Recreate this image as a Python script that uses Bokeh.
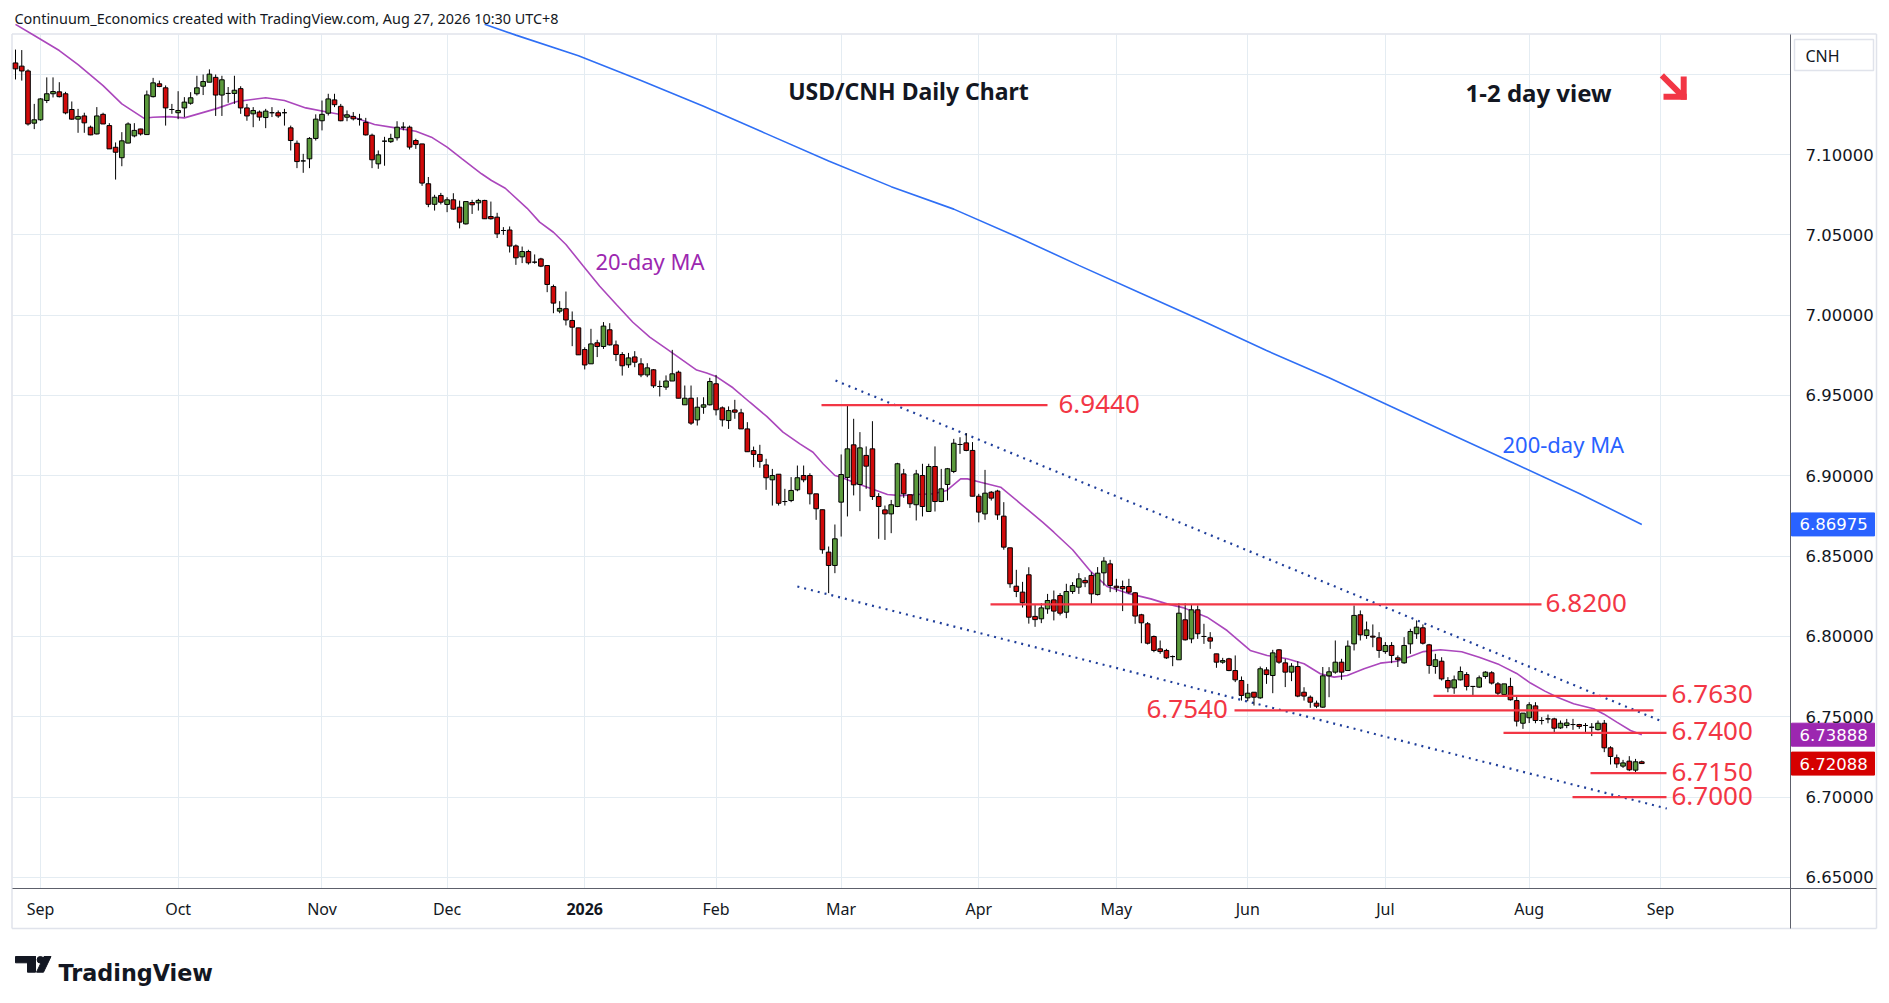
import numpy as np
import pandas as pd
from bokeh.plotting import figure
from bokeh.models import Range1d, FixedTicker, PrintfTickFormatter, Label, ColumnDataSource
from bokeh.embed import file_html
from bokeh.resources import INLINE
from bokeh.core.properties import value

# ---------------- data ----------------
first_day = "2025-08-26"
holidays = ["2025-12-25", "2026-01-01"]

opens = [7.157, 7.155, 7.152, 7.1195, 7.1216, 7.1336, 7.1378, 7.139, 7.1378, 7.128,
 7.122, 7.124, 7.117, 7.1128, 7.125, 7.118, 7.1045, 7.098, 7.1071, 7.1116,
 7.1159, 7.1124, 7.136, 7.144, 7.1415, 7.128, 7.126, 7.129, 7.1319, 7.1378,
 7.1425, 7.145, 7.148, 7.137, 7.138, 7.138, 7.141, 7.129, 7.1253, 7.1264,
 7.123, 7.126, 7.126, 7.126, 7.1166, 7.107, 7.096, 7.0973, 7.110, 7.121,
 7.1257, 7.134, 7.130, 7.1232, 7.1237, 7.122, 7.12, 7.112, 7.0942, 7.1083,
 7.108, 7.1104, 7.117, 7.117, 7.1087, 7.1066, 7.0818, 7.069, 7.0745, 7.0689,
 7.0718, 7.0672, 7.0568, 7.0701, 7.0699, 7.0714, 7.0614, 7.061, 7.0527, 7.053,
 7.0431, 7.0363, 7.0396, 7.033, 7.035, 7.0309, 7.0178, 7.0025, 7.004, 6.9967,
 6.9921, 6.9786, 6.9697, 6.9828, 6.9805, 6.9909, 6.9815, 6.9755, 6.9691, 6.974,
 6.9697, 6.9628, 6.966, 6.9556, 6.9552, 6.959, 6.9645, 6.9442, 6.9483, 6.9348,
 6.9427, 6.9442, 6.9573, 6.9423, 6.9344, 6.941, 6.9392, 6.9292, 6.9157, 6.9133,
 6.9068, 6.8975, 6.901, 6.884, 6.8846, 6.8913, 6.9002, 6.9002, 6.8888, 6.8789,
 6.8525, 6.8442, 6.8836, 6.899, 6.9193, 6.8946, 6.9127, 6.9168, 6.8871, 6.8788,
 6.8763, 6.8809, 6.9012, 6.8882, 6.882, 6.9002, 6.8778, 6.9058, 6.884, 6.8946,
 6.9027, 6.9195, 6.9205, 6.9158, 6.8873, 6.8763, 6.8898, 6.8905, 6.8749, 6.8552,
 6.8313, 6.8276, 6.8384, 6.8125, 6.8110, 6.8172, 6.8228, 6.8255, 6.8151, 6.828,
 6.8307, 6.8349, 6.838, 6.8261, 6.8396, 6.8452, 6.8313, 6.8311, 6.8311, 6.8272,
 6.8135, 6.8079, 6.8000, 6.7923, 6.7913, 6.7875, 6.7855, 6.8104, 6.7985, 6.8166,
 6.8000, 6.7992, 6.7892, 6.784, 6.7861, 6.7788, 6.7726, 6.7618, 6.7653, 6.7618,
 6.7792, 6.7757, 6.7917, 6.7836, 6.7778, 6.7813, 6.7653, 6.7622, 6.7585, 6.756,
 6.7755, 6.7778, 6.784, 6.7788, 6.7954, 6.8135, 6.8006, 6.8002, 6.7992, 6.7906,
 6.7944, 6.7867, 6.7836, 6.7954, 6.8017, 6.8054, 6.7948, 6.7813, 6.7846, 6.7726,
 6.768, 6.773, 6.7763, 6.7689, 6.7685, 6.7751, 6.7774, 6.7705, 6.7639, 6.7689,
 6.7601, 6.746, 6.7494, 6.7568, 6.7477, 6.7487, 6.7487, 6.7431, 6.7446, 6.7452,
 6.7452, 6.7446, 6.7435, 6.742, 6.746, 6.7307, 6.7245, 6.7193, 6.7224, 6.7168,
 6.7220]

highs = [7.1653, 7.165, 7.153, 7.1315, 7.135, 7.148, 7.148, 7.145, 7.139, 7.133,
 7.1284, 7.126, 7.118, 7.1295, 7.126, 7.1195, 7.1075, 7.1139, 7.12, 7.1195,
 7.116, 7.1398, 7.1477, 7.146, 7.143, 7.1315, 7.1394, 7.1357, 7.1388, 7.149,
 7.1498, 7.153, 7.1498, 7.149, 7.142, 7.149, 7.1425, 7.1315, 7.1295, 7.1274,
 7.1284, 7.1295, 7.1274, 7.1284, 7.118, 7.1087, 7.1004, 7.1108, 7.125, 7.1336,
 7.1378, 7.1378, 7.1315, 7.1274, 7.1264, 7.1253, 7.1228, 7.113, 7.1025, 7.111,
 7.1129, 7.1207, 7.1201, 7.118, 7.1098, 7.1066, 7.086, 7.0749, 7.0761, 7.0734,
 7.0759, 7.0713, 7.0707, 7.0718, 7.0724, 7.0718, 7.0707, 7.0637, 7.0548, 7.0552,
 7.0440, 7.0427, 7.0407, 7.0378, 7.0357, 7.0309, 7.019, 7.0087, 7.0147, 7.0023,
 6.9921, 6.98, 6.9915, 6.9847, 6.9957, 6.9950, 6.9842, 6.977, 6.9765, 6.9776,
 6.9732, 6.9701, 6.9664, 6.9593, 6.9625, 6.9784, 6.9655, 6.9562, 6.9562, 6.9489,
 6.9489, 6.961, 6.9628, 6.9432, 6.9432, 6.9473, 6.9417, 6.9334, 6.9182, 6.9193,
 6.9106, 6.9043, 6.901, 6.8919, 6.8992, 6.9064, 6.9064, 6.9016, 6.8888, 6.8789,
 6.856, 6.8697, 6.9133, 6.9438, 6.9355, 6.9272, 6.9183, 6.934, 6.8892, 6.8815,
 6.8850, 6.9081, 6.9043, 6.8882, 6.9037, 6.9075, 6.9075, 6.9183, 6.9043, 6.9049,
 6.923, 6.924, 6.9266, 6.921, 6.8888, 6.9037, 6.8905, 6.8913, 6.8836, 6.8552,
 6.8415, 6.8340, 6.8431, 6.8200, 6.8207, 6.8265, 6.8286, 6.827, 6.8328, 6.8338,
 6.8394, 6.8369, 6.84, 6.8432, 6.8494, 6.8477, 6.8359, 6.8348, 6.8359, 6.8276,
 6.8141, 6.809, 6.8006, 6.7975, 6.7923, 6.7882, 6.8207, 6.8207, 6.8199, 6.8193,
 6.8079, 6.8027, 6.7892, 6.7867, 6.7867, 6.7882, 6.7751, 6.7705, 6.7653, 6.7813,
 6.7809, 6.7917, 6.7921, 6.7861, 6.7834, 6.7846, 6.7684, 6.7633, 6.7601, 6.781,
 6.7809, 6.7975, 6.7861, 6.7975, 6.8193, 6.8162, 6.8093, 6.8075, 6.8027, 6.7965,
 6.7965, 6.7882, 6.7996, 6.8048, 6.81, 6.8075, 6.7954, 6.7892, 6.7871, 6.7747,
 6.7757, 6.7813, 6.7778, 6.7689, 6.7757, 6.7784, 6.7784, 6.7716, 6.7705, 6.7743,
 6.7626, 6.7523, 6.7591, 6.7591, 6.7498, 6.7514, 6.7494, 6.7477, 6.7487, 6.7487,
 6.7456, 6.7461, 6.7461, 6.7477, 6.748, 6.7317, 6.7265, 6.7232, 6.7255, 6.7238,
 6.7228]

lows = [7.1467, 7.146, 7.118, 7.1158, 7.121, 7.132, 7.1355, 7.1355, 7.125, 7.1216,
 7.1135, 7.1135, 7.112, 7.1125, 7.119, 7.1035, 7.0844, 7.0927, 7.107, 7.1107,
 7.1118, 7.1122, 7.1355, 7.1419, 7.118, 7.1253, 7.122, 7.1233, 7.131, 7.1367,
 7.137, 7.145, 7.124, 7.124, 7.1322, 7.1315, 7.1253, 7.121, 7.117, 7.121,
 7.1164, 7.1233, 7.1228, 7.118, 7.1025, 7.0915, 7.0886, 7.0915, 7.1087, 7.115,
 7.1243, 7.1295, 7.1207, 7.1207, 7.1212, 7.118, 7.1118, 7.0915, 7.0911, 7.093,
 7.1072, 7.1087, 7.115, 7.1031, 7.1035, 7.0805, 7.0672, 7.0651, 7.0689, 7.0641,
 7.0656, 7.054, 7.0564, 7.063, 7.0651, 7.0599, 7.0595, 7.048, 7.0500, 7.039,
 7.0313, 7.0324, 7.0315, 7.032, 7.0299, 7.0143, 7.0012, 7.0012, 6.9936, 6.9807,
 6.9753, 6.9662, 6.9697, 6.9739, 6.979, 6.9811, 6.9714, 6.9624, 6.9672, 6.9676,
 6.9614, 6.9614, 6.9547, 6.9494, 6.9535, 6.9590, 6.9483, 6.9442, 6.9317, 6.9313,
 6.9386, 6.9438, 6.9376, 6.9307, 6.9292, 6.9355, 6.9292, 6.915, 6.9054, 6.9050,
 6.8913, 6.8815, 6.8815, 6.8815, 6.8836, 6.8904, 6.896, 6.8822, 6.8726, 6.8515,
 6.827, 6.8394, 6.8622, 6.8747, 6.8878, 6.878, 6.8919, 6.885, 6.8608, 6.8601,
 6.8643, 6.8805, 6.8863, 6.8800, 6.8722, 6.8747, 6.8778, 6.8778, 6.8836, 6.8846,
 6.9017, 6.9137, 6.9153, 6.8873, 6.871, 6.8726, 6.8846, 6.8726, 6.854, 6.8303,
 6.8245, 6.8180, 6.8080, 6.8060, 6.8083, 6.8141, 6.8100, 6.8131, 6.8114, 6.8265,
 6.8265, 6.8307, 6.8197, 6.8255, 6.8317, 6.8276, 6.8276, 6.8158, 6.8265, 6.8079,
 6.7958, 6.795, 6.7902, 6.7892, 6.786, 6.7815, 6.7855, 6.7975, 6.7958, 6.7985,
 6.7954, 6.7923, 6.7805, 6.7830, 6.7784, 6.7716, 6.7601, 6.7597, 6.757, 6.7612,
 6.7705, 6.7647, 6.7830, 6.7685, 6.7722, 6.7622, 6.7601, 6.7556, 6.7554, 6.7556,
 6.7622, 6.7768, 6.773, 6.7788, 6.7913, 6.7975, 6.7985, 6.7933, 6.7867, 6.7892,
 6.7834, 6.781, 6.7830, 6.7892, 6.7985, 6.7950, 6.7768, 6.7768, 6.7726, 6.7653,
 6.7643, 6.7726, 6.7664, 6.7633, 6.768, 6.7737, 6.7701, 6.7633, 6.7633, 6.7601,
 6.744, 6.7425, 6.7461, 6.746, 6.7452, 6.746, 6.7404, 6.7425, 6.7429, 6.7419,
 6.7425, 6.7394, 6.738, 6.7415, 6.728, 6.7203, 6.7182, 6.7182, 6.7162, 6.7149,
 6.7206]

closes = [7.1533, 7.152, 7.119, 7.1216, 7.1346, 7.1378, 7.1392, 7.136, 7.1259, 7.122,
 7.1237, 7.1197, 7.1122, 7.124, 7.119, 7.1035, 7.1014, 7.1085, 7.119, 7.115,
 7.1128, 7.1371, 7.1446, 7.1423, 7.129, 7.128, 7.1274, 7.1326, 7.1353, 7.1415,
 7.1454, 7.150, 7.137, 7.1465, 7.138, 7.140, 7.129, 7.124, 7.1274, 7.1233,
 7.127, 7.126, 7.124, 7.126, 7.1087, 7.0956, 7.096, 7.110, 7.122, 7.125,
 7.1346, 7.131, 7.121, 7.1247, 7.1222, 7.122, 7.1122, 7.0967, 7.0998, 7.1083,
 7.110, 7.117, 7.117, 7.1046, 7.1062, 7.0822, 7.069, 7.0734, 7.0703, 7.0718,
 7.066, 7.0579, 7.0707, 7.0687, 7.0714, 7.0600, 7.0600, 7.0506, 7.0527, 7.043,
 7.0357, 7.0396, 7.0326, 7.033, 7.0305, 7.0191, 7.0075, 7.0042, 6.997, 6.9925,
 6.9753, 6.969, 6.9821, 6.9805, 6.9932, 6.9815, 6.9755, 6.9685, 6.9734, 6.9707,
 6.9628, 6.9672, 6.956, 6.9556, 6.959, 6.9635, 6.9483, 6.9483, 6.9328, 6.9427,
 6.9442, 6.9587, 6.9411, 6.9348, 6.9406, 6.9396, 6.9292, 6.915, 6.9133, 6.909,
 6.8988, 6.9002, 6.8829, 6.884, 6.8909, 6.8988, 6.8975, 6.8888, 6.8795, 6.854,
 6.8442, 6.8608, 6.9008, 6.9168, 6.8944, 6.9174, 6.906, 6.8871, 6.8809, 6.8763,
 6.882, 6.9075, 6.8888, 6.8826, 6.9012, 6.8809, 6.9058, 6.884, 6.8919, 6.9044,
 6.9203, 6.9195, 6.9158, 6.8873, 6.8774, 6.8892, 6.8861, 6.8757, 6.8556, 6.8328,
 6.828, 6.8210, 6.8120, 6.8105, 6.8178, 6.8224, 6.8158, 6.8145, 6.828, 6.8317,
 6.8359, 6.8334, 6.8265, 6.8394, 6.8469, 6.8317, 6.8303, 6.8297, 6.8276, 6.8127,
 6.8085, 6.7958, 6.7913, 6.7906, 6.7867, 6.7875, 6.8145, 6.7979, 6.8166, 6.8017,
 6.8000, 6.7971, 6.784, 6.785, 6.7788, 6.773, 6.7633, 6.7647, 6.7622, 6.7799,
 6.7763, 6.7898, 6.784, 6.7778, 6.7815, 6.7629, 6.7629, 6.7591, 6.7566, 6.7755,
 6.778, 6.784, 6.7778, 6.7940, 6.8131, 6.8010, 6.8041, 6.7996, 6.7913, 6.7944,
 6.7882, 6.7855, 6.7944, 6.8031, 6.8058, 6.7958, 6.782, 6.7855, 6.7736, 6.768,
 6.773, 6.7782, 6.7689, 6.7689, 6.7743, 6.7778, 6.771, 6.7647, 6.7705, 6.7606,
 6.7473, 6.7523, 6.7575, 6.7477, 6.7477, 6.7487, 6.7429, 6.746, 6.7462, 6.7452,
 6.744, 6.7446, 6.7435, 6.746, 6.7307, 6.7253, 6.7207, 6.7213, 6.717, 6.722,
 6.7209]

# 20-day moving average, read at bar positions
ma20_x = [0, 3, 7, 10, 14, 17, 20.5, 22, 24.5, 27, 32, 35.4, 40, 43, 46.4, 50, 53.7, 57.4, 61, 64,
 66.5, 69, 71.4, 74.5, 76.1, 78.3, 81.8, 83.8, 86, 88, 90.7, 93.4, 96.1, 98.7, 101.4, 104.1, 106.7, 108.9, 110.5, 112.1,
 114.7, 117.4, 120.1, 122.7, 125.4, 127.5, 129.1, 131, 132, 134, 136.2, 139.4, 141.5, 144.1, 146.8, 148.9, 151.1, 152.2, 154.3, 157.5,
 160.7, 164.2, 166, 169, 171.9, 174.5, 177.7, 181.5, 184.1, 186.8, 190.5, 193.7, 197.4, 200.1, 203.3, 206, 208.6, 210.8, 212.9, 215.6,
 218.2, 220.9, 223, 225.1, 227.8, 231.2, 234, 237.2, 240, 242.2, 244.5, 246.6, 249.1, 252.3, 253.9, 256, 258.2, 260]
ma20_y = [7.181, 7.1741, 7.1647, 7.1560, 7.1429, 7.1315, 7.1226, 7.1232, 7.1236, 7.1228, 7.1284, 7.1330, 7.1353, 7.1336, 7.1290, 7.1263, 7.1236, 7.1187, 7.1164, 7.1145,
 7.1108, 7.1046, 7.0973, 7.0880, 7.0838, 7.0790, 7.0665, 7.0579, 7.0516, 7.0440, 7.0309, 7.0180, 7.0065, 6.9956, 6.9863, 6.9790, 6.9718, 6.9658, 6.9640, 6.9616,
 6.9548, 6.9458, 6.9370, 6.9272, 6.9199, 6.9147, 6.9075, 6.9002, 6.8991, 6.8960, 6.8929, 6.8884, 6.8877, 6.8884, 6.8888, 6.8909, 6.8981, 6.8981, 6.8960, 6.8929,
 6.8826, 6.8712, 6.8649, 6.8540, 6.8405, 6.8311, 6.8270, 6.8234, 6.8203, 6.8178, 6.8120, 6.8037, 6.7913, 6.7882, 6.7861, 6.7830, 6.7768, 6.7747, 6.7757, 6.7799,
 6.7834, 6.7846, 6.7875, 6.7906, 6.7917, 6.7905, 6.7871, 6.7825, 6.7770, 6.7710, 6.7660, 6.7620, 6.7581, 6.7550, 6.7518, 6.7467, 6.7415, 6.73888]

# 200-day moving average
ma200_x = [75, 80, 90, 100, 110, 120, 130, 140, 150, 160, 170, 180, 190, 200, 210, 220, 230, 240, 250, 260]
ma200_y = [7.181, 7.1743, 7.1615, 7.146, 7.130, 7.113, 7.096, 7.080, 7.066, 7.049, 7.031, 7.0135,
 6.996, 6.978, 6.961, 6.943, 6.925, 6.907, 6.889, 6.86975]

# dotted channel (bar, price)
chan_upper_x = [131.1, 263.5]
chan_upper_y = [6.9593, 6.7467]
chan_lower_x = [125.0, 264.0]
chan_lower_y = [6.8311, 6.6929]

# horizontal levels
levels = [6.9440, 6.8200, 6.7630, 6.7540, 6.7400, 6.7150, 6.7000]
level_texts = ["6.9440", "6.8200", "6.7630", "6.7540", "6.7400", "6.7150", "6.7000"]

# last values shown on the price scale
tag_values = [6.86975, 6.73888, 6.72088]
tag_texts = ["6.86975", "6.73888", "6.72088"]
tag_colors = ["#2962ff", "#9c27b0", "#d50000"]

y_ticks = [6.65, 6.70, 6.75, 6.80, 6.85, 6.90, 6.95, 7.00, 7.05, 7.10]
y_grid = [6.65, 6.70, 6.75, 6.80, 6.85, 6.90, 6.95, 7.00, 7.05, 7.10, 7.15]
tick_months = ["2025-09", "2025-10", "2025-11", "2025-12", "2026-01", "2026-02", "2026-03",
               "2026-04", "2026-05", "2026-06", "2026-07", "2026-08", "2026-09"]
tick_labels = ["Sep", "Oct", "Nov", "Dec", "2026", "Feb", "Mar", "Apr", "May", "Jun", "Jul", "Aug", "Sep"]

# ---------------- layout helpers (page pixels -> data) ----------------
BAR0_PX, BAR_PX = 15.0, 6.255
Y710_PX, PPX = 154.0, 0.05 / 80.33


def px2x(px):
    return (px - BAR0_PX) / BAR_PX


def px2y(py):
    return 7.10 - (py - Y710_PX) * PPX


FONT = "Noto Sans"
FONT_NUM = "DejaVu Sans"
RED = "#f23645"
INK = "#131722"

days = pd.bdate_range(first_day, "2026-09-30")
days = days[~days.isin(pd.to_datetime(holidays))]
months = np.array(days.strftime("%Y-%m"))
tick_pos = [int(np.argmax(months == m)) for m in tick_months]

n = len(closes)
o = np.array(opens); h = np.array(highs); l = np.array(lows); c = np.array(closes)
idx = np.arange(n)
up = c >= o
src = ColumnDataSource(dict(
    x=idx, h=np.maximum(h, np.maximum(o, c)), l=np.minimum(l, np.minimum(o, c)),
    top=np.maximum(o, c), bottom=np.minimum(o, c),
    color=np.where(up, "#5b9a3c", "#d10a0a"),
    date=[d.strftime("%Y-%m-%d") for d in days[:n]],
))

W, H = 1885, 990
p = figure(width=W, height=H, output_backend="svg", toolbar_location=None,
           x_range=Range1d(px2x(0), px2x(W)), y_range=Range1d(px2y(H), px2y(0)),
           y_axis_location="right", min_border=0, min_border_left=0, min_border_right=0,
           min_border_top=0, min_border_bottom=0,
           background_fill_color="white", border_fill_color="white")
p.outline_line_color = None

# axes, fixed at TradingView's pane edges
p.yaxis.fixed_location = px2x(1790)
p.yaxis.bounds = (px2y(928), px2y(34))
p.xaxis.fixed_location = px2y(888)
p.xaxis.bounds = (px2x(12), px2x(1876))
p.yaxis.ticker = FixedTicker(ticks=y_ticks)
p.yaxis.formatter = PrintfTickFormatter(format="%.5f")
p.xaxis.ticker = FixedTicker(ticks=tick_pos)
p.xaxis.major_label_overrides = {tp: (lab if lab != "2026" else "") for tp, lab in zip(tick_pos, tick_labels)}
for ax in (p.xaxis, p.yaxis):
    ax.major_tick_line_color = None
    ax.minor_tick_line_color = None
    ax.axis_line_color = "#5d606b"
    ax.major_label_text_color = INK
p.yaxis.major_label_text_font = FONT_NUM
p.yaxis.major_label_text_font_size = "16.5px"
p.yaxis.major_label_standoff = 9
p.xaxis.major_label_text_font = FONT
p.xaxis.major_label_text_font_size = "16px"
p.xaxis.major_label_standoff = 3
p.ygrid.ticker = FixedTicker(ticks=y_grid)
p.xgrid.grid_line_color = "#e4ecf2"
p.ygrid.grid_line_color = "#e4ecf2"
p.ygrid.cross_bounds = (px2x(12), px2x(1790))
p.xgrid.cross_bounds = (px2y(888), px2y(34))

# light pane border
bx0, bx1, by0, by1 = px2x(11.5), px2x(1876), px2y(33.5), px2y(928)
p.segment(x0=[bx0, bx0, bx1, bx0], y0=[by0, by0, by0, by1], x1=[bx1, bx0, bx1, bx1],
          y1=[by0, by1, by1, by1], line_color="#e0e3eb", line_width=1.5)

# moving averages
p.line(ma200_x, ma200_y, line_color="#2f6ff5", line_width=1.6)
p.line(ma20_x, ma20_y, line_color="#ab47bc", line_width=1.6)

# channel
p.line(chan_upper_x, chan_upper_y, line_color="#1f3e9a", line_width=2.2, line_dash="2 5")
p.line(chan_lower_x, chan_lower_y, line_color="#1f3e9a", line_width=2.2, line_dash="2 5")

# candles
p.segment(x0="x", y0="h", x1="x", y1="l", source=src, line_color="black", line_width=1)
p.vbar(x="x", width=0.74, top="top", bottom="bottom", fill_color="color",
       line_color="black", line_width=1, source=src)

# level lines and labels
line_px = [(821, 1047), (990, 1541), (1433, 1666), (1234, 1653), (1503, 1666), (1590, 1666), (1572, 1666)]
label_px = [1058, 1545, 1671, 1146, 1671, 1671, 1671]
p.segment(x0=[px2x(a) for a, b in line_px], y0=levels, x1=[px2x(b) for a, b in line_px], y1=levels,
          line_color=RED, line_width=2.2)
p.text(x=[px2x(v) for v in label_px], y=[lv + 1.5 * PPX for lv in levels], text=level_texts,
       text_font=value(FONT), text_font_size="26px", text_color=RED,
       text_baseline="middle", text_align="left")

# arrow (down-right)
p.segment(x0=[px2x(1663.5), px2x(1666), px2x(1683.2)], y0=[px2y(77), px2y(96.3), px2y(79)],
          x1=[px2x(1681), px2x(1683.2), px2x(1683.2)], y1=[px2y(94.5), px2y(96.3), px2y(96.3)],
          line_color=RED, line_width=6, line_cap="square")

# price-scale tags (last values)
half = 11.5 * PPX
p.quad(left=[px2x(1791)] * 3, right=[px2x(1874)] * 3,
       bottom=[v - half for v in tag_values], top=[v + half for v in tag_values],
       fill_color=tag_colors, line_color=tag_colors)
p.text(x=[px2x(1799)] * 3, y=tag_values, text=tag_texts, text_font=value(FONT_NUM),
       text_font_size="16.5px", text_color="white", text_baseline="middle", text_align="left")

# symbol box on the price scale
p.quad(left=[px2x(1794)], right=[px2x(1873)], top=[px2y(39)], bottom=[px2y(70)],
       fill_color="white", line_color="#e0e3eb", line_width=1.5)
p.text(x=[px2x(1805)], y=[px2y(55)], text=["CNH"], text_font=value(FONT),
       text_font_size="16px", text_color=INK, text_baseline="middle", text_align="left")


def add_label(x, y, text, size, color=INK, bold=False, align="left", font=FONT):
    lab = Label(x=x, y=y, text=text, text_font=font, text_font_size=size, text_color=color,
                text_font_style="bold" if bold else "normal", text_align=align,
                text_baseline="middle")
    p.add_layout(lab)
    return lab


add_label(px2x(14), px2y(18), "Continuum_Economics created with TradingView.com, Aug 27, 2026 10:30 UTC+8", "14.4px")
add_label(px2x(908), px2y(90), "USD/CNH Daily Chart", "23px", bold=True, align="center")
add_label(px2x(1465), px2y(92), "1-2 day view", "24px", bold=True)
add_label(px2x(595), px2y(260), "20-day MA", "22px", color="#9c27b0")
add_label(px2x(1502), px2y(443), "200-day MA", "22px", color="#2962ff")
add_label(tick_pos[4], px2y(908), "2026", "16px", bold=True, align="center")

# TradingView logo
p.quad(left=[px2x(15), px2x(27)], right=[px2x(35), px2x(35)],
       bottom=[px2y(962.3), px2y(971.7)], top=[px2y(956), px2y(956)], color=INK)
p.circle(x=[px2x(39.9)], y=[px2y(959.3)], radius=3.3 / BAR_PX, color=INK)
p.patch([px2x(43.5), px2x(50.5), px2x(43.0), px2x(36.0)],
        [px2y(956), px2y(956), px2y(971.7), px2y(971.7)], color=INK)
p.text(x=[px2x(58)], y=[px2y(972)], text=["TradingView"], text_font=value(FONT_NUM), text_font_style="bold",
       text_font_size="22.3px", text_color=INK, text_baseline="alphabetic")

open("out.html", "w").write(file_html(p, INLINE))
